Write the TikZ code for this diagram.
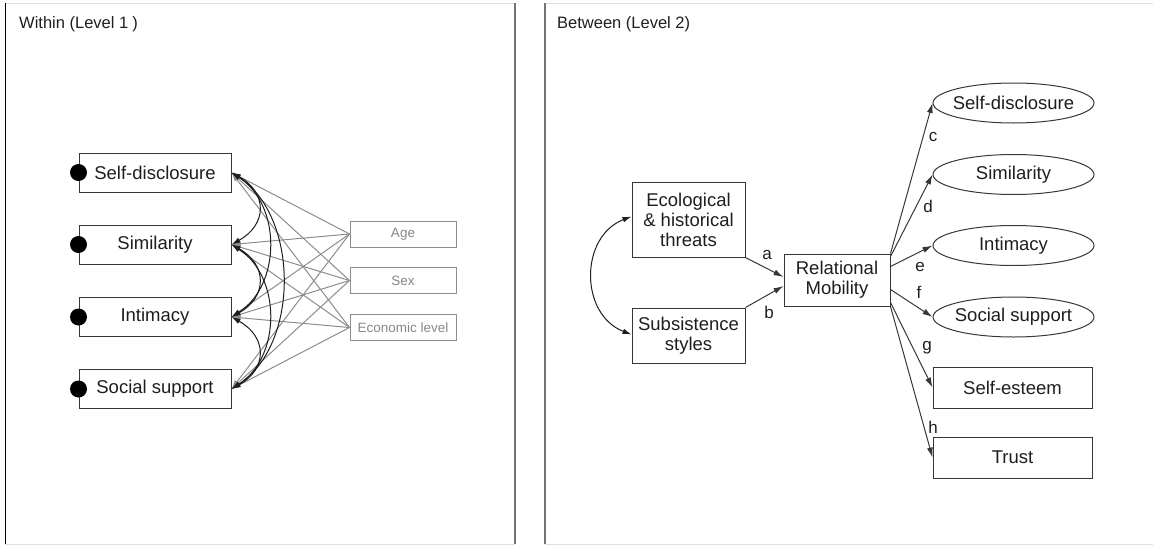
\documentclass[tikz,border=0pt]{standalone}
\usepackage{fontspec}
\setmainfont{Liberation Sans}
\usetikzlibrary{arrows.meta,shapes.geometric,calc}
\definecolor{ink}{RGB}{30,30,30}
\definecolor{edge}{RGB}{55,55,55}
\definecolor{soft}{RGB}{140,140,140}
\definecolor{softtext}{RGB}{135,135,135}
\begin{document}
\begin{tikzpicture}[
  x=1pt, y=-1pt,
  lab/.style={font=\fontsize{18.5}{20}\selectfont, text=ink, align=center, inner sep=0pt},
  lbox/.style={lab, draw=edge, line width=1pt, minimum width=152pt, minimum height=39pt},
  gbox/.style={draw=soft, line width=1pt, minimum width=106pt, minimum height=26pt,
    inner sep=0pt, font=\fontsize{13.5}{15}\selectfont, text=softtext},
  rbox/.style={lab, draw=edge, line width=1pt},
  oval/.style={lab, ellipse, draw=edge, line width=1pt, inner xsep=-30pt, inner ysep=-12pt,
    minimum width=161pt, minimum height=40pt},
  path lbl/.style={font=\fontsize{17}{18}\selectfont, text=ink, inner sep=0pt},
  title/.style={anchor=west, font=\fontsize{16.5}{18}\selectfont, text=ink, inner sep=0pt},
  garrow/.style={draw=soft, line width=1pt, -{Latex[length=9pt,width=5.5pt]}},
  carrow/.style={draw=ink, line width=1pt, {Latex[length=9pt,width=5.5pt]}-{Latex[length=9pt,width=5.5pt]}},
  parrow/.style={draw=edge, line width=1pt, -{Latex[length=10pt,width=6pt]}},
]
\useasboundingbox (0,0) rectangle (1153,546);

% panel frames
\draw[gray!25, line width=0.8pt] (5,3) -- (515,3) (5,544) -- (515,544)
  (545,3) -- (1153,3) (545,544) -- (1153,544);
\draw[black, line width=0.8pt] (5,3) -- (5,544);
\draw[black!55, line width=1.8pt] (515,3) -- (515,544) (545,3) -- (545,544);

\node[title] (t1) at (19,24) {Within (Level 1\kern4pt)};
\node[title] (t2) at (557,24) {Between (Level 2)};

% ---- within level: outcomes and covariates
\node[lbox] (sd)  at (155,172.5) {Self-disclosure};
\node[lbox] (sim) at (155,244.5) {Similarity};
\node[lbox] (int) at (155,317)   {Intimacy};
\node[lbox] (ss)  at (155,389)   {Social support};
\foreach \n in {sd,sim,int,ss} \fill[black] (\n.west) circle[radius=8.5pt];

\node[gbox] (age) at (403,234)   {Age};
\node[gbox] (sex) at (403,280.5) {Sex};
\node[gbox] (eco) at (403,327.5) {Economic level};

\foreach \c in {age,sex,eco}
  \foreach \n in {sd,sim,int,ss}
    \draw[garrow] (\c.west) -- (\n.east);

% residual covariances
\draw[carrow] (sd.east)  .. controls +(36,20) and +(36,-20) .. (sim.east);
\draw[carrow] (sim.east) .. controls +(36,20) and +(36,-20) .. (int.east);
\draw[carrow] (int.east) .. controls +(36,20) and +(36,-20) .. (ss.east);
\draw[carrow] (sd.east)  .. controls +(50,32) and +(50,-32) .. (int.east);
\draw[carrow] (sim.east) .. controls +(50,32) and +(50,-32) .. (ss.east);
\draw[carrow] (sd.east)  .. controls +(68,44) and +(68,-44) .. (ss.east);

% ---- between level
\node[rbox, minimum width=113pt, minimum height=75pt] (threat) at (688.5,219.5)
  {Ecological\\\& historical\\threats};
\node[rbox, minimum width=113pt, minimum height=55pt] (subs) at (688.5,335.5)
  {Subsistence\\styles};
\node[rbox, minimum width=106pt, minimum height=52pt] (rm) at (837,280)
  {Relational\\Mobility};

\node[oval] (o1) at (1013.5,103)   {Self-disclosure};
\node[oval] (o2) at (1013.5,174.5) {Similarity};
\node[oval] (o3) at (1013.5,245.5) {Intimacy};
\node[oval] (o4) at (1013.5,317)   {Social support};
\node[rbox, minimum width=159pt, minimum height=41pt] (se) at (1012.5,387.5) {Self-esteem};
\node[rbox, minimum width=159pt, minimum height=41pt] (tr) at (1012.5,457.5) {Trust};

\draw[carrow] ($(threat.west)+(0,-3)$) .. controls +(-52,20) and +(-52,-20) .. ($(subs.west)+(0,-1)$);

\draw[parrow] (threat.south east) -- ($(rm.west)+(0,-3)$);
\draw[parrow] (subs.north east) -- ($(rm.west)+(0,6)$);

\draw[parrow] (rm.north east) -- (o1.west);
\draw[parrow] ($(rm.north east)+(0,3)$) -- (o2.west);
\draw[parrow] ($(rm.north east)+(0,13)$) -- (o3.west);
\draw[parrow] ($(rm.north east)+(0,36)$) -- (o4.west);
\draw[parrow] ($(rm.south east)+(0,-4)$) -- (se.west);
\draw[parrow] (rm.south east) -- (tr.west);

\node[path lbl] (la) at (767,255) {a};
\node[path lbl] (lb) at (769,312) {b};
\node[path lbl] (lc) at (933,137) {c};
\node[path lbl] (ld) at (928,206) {d};
\node[path lbl] (le) at (920,267) {e};
\node[path lbl] (lf) at (919,292) {f};
\node[path lbl] (lg) at (927,348) {g};
\node[path lbl] (lh) at (933,427) {h};
\end{tikzpicture}
\end{document}
